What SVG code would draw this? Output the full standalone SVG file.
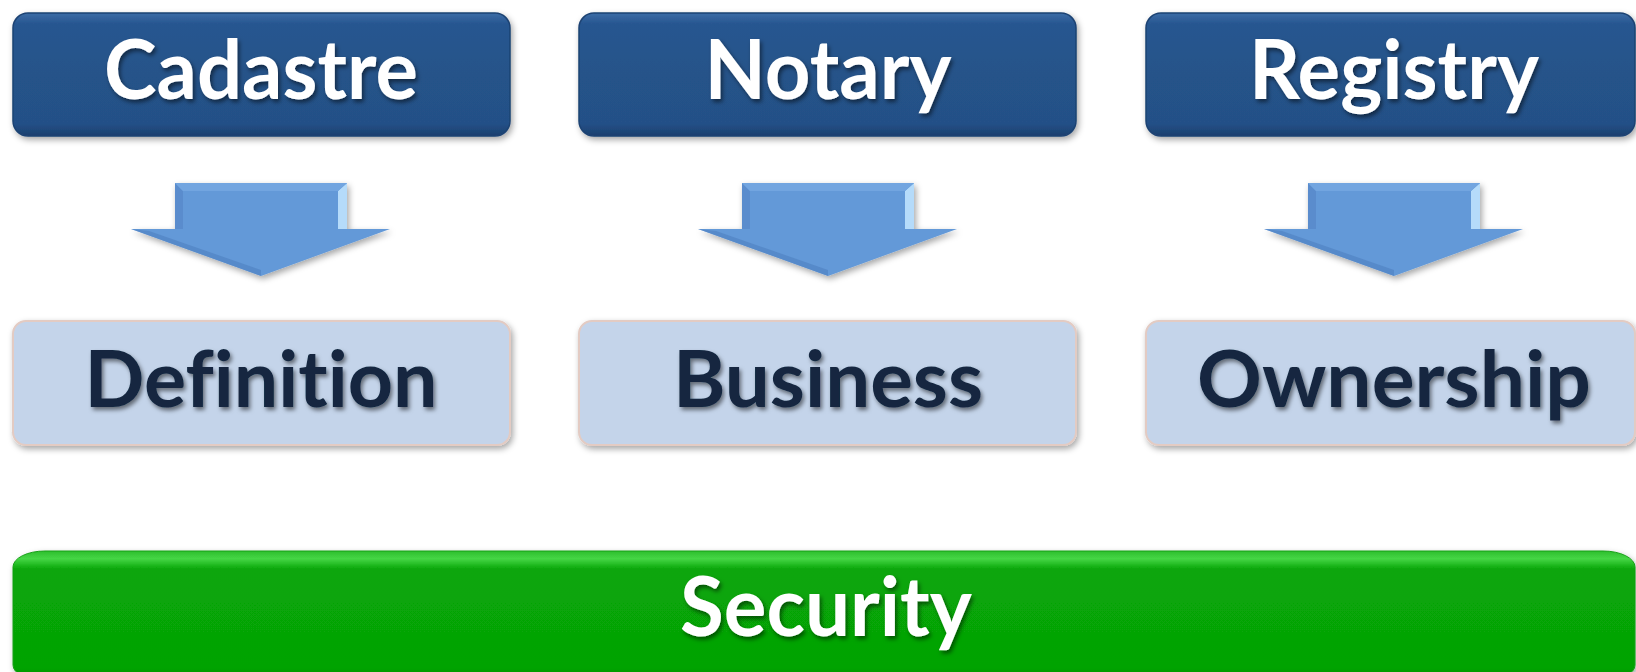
<svg xmlns="http://www.w3.org/2000/svg" width="1636" height="672" viewBox="0 0 1636 672">
<defs>
<linearGradient id="gDark" x1="0" y1="0" x2="0" y2="1">
<stop offset="0" stop-color="#3c6ca6"/>
<stop offset="0.09" stop-color="#275690"/>
<stop offset="0.5" stop-color="#255389"/>
<stop offset="0.9" stop-color="#245087"/>
<stop offset="1" stop-color="#1b3f6e"/>
</linearGradient>
<linearGradient id="gGreen" x1="0" y1="0" x2="0" y2="1">
<stop offset="0" stop-color="#2fbf2f"/>
<stop offset="0.06" stop-color="#45d645"/>
<stop offset="0.14" stop-color="#08a608"/>
<stop offset="0.9" stop-color="#05a305"/>
<stop offset="1" stop-color="#048c04"/>
</linearGradient>
<filter id="boxShadow" x="-5%" y="-10%" width="110%" height="130%">
<feDropShadow dx="2" dy="3" stdDeviation="3" flood-color="#000" flood-opacity="0.35"/>
</filter>
<filter id="txtShadow" x="-5%" y="-10%" width="110%" height="130%">
<feDropShadow dx="2" dy="3" stdDeviation="2" flood-color="#000" flood-opacity="0.5"/>
</filter>
<g id="arrowShape">
<polygon points="-86,0 86,0 86,46 129,46 0,93 -130,46 -86,46" fill="#6399d8"/>
<polygon points="-86,0 -78,8 -78,46 -86,46" fill="#5a8ccd"/>
<polygon points="86,0 77,8 77,46 86,46" fill="#b5dbfa"/>
<polygon points="-86,0 86,0 77,8 -78,8" fill="#72a5e0"/>
<polygon points="-130,46 0,93 0,87 -112,48" fill="#4b7cbc" opacity="0.5"/>
</g>
</defs>
<style>
.dark{fill:url(#gDark);stroke:#1d4373;stroke-width:1.5;filter:url(#boxShadow)}
.light{fill:#c4d4ea;stroke:#e3cbc3;stroke-width:2;filter:url(#boxShadow)}
.green{fill:url(#gGreen);stroke:#17a017;stroke-width:1;filter:url(#boxShadow)}
.tTop,.tMid{font-family:Lato,"Open Sans","Liberation Sans",sans-serif;font-weight:bold;text-anchor:middle;filter:url(#txtShadow);font-variant-ligatures:none;font-feature-settings:"liga" 0,"clig" 0,"dlig" 0}
.tTop{font-size:82px;fill:#ffffff}
.tMid{font-size:78px;fill:#12263f}
.arrow{filter:url(#boxShadow)}
</style>
<rect width="1636" height="672" fill="#ffffff"/>

<g id="cadastre">
<rect class="dark" x="13" y="13" width="497" height="123" rx="15"/>
<text class="tTop" x="261" y="99" textLength="314" lengthAdjust="spacingAndGlyphs">Cadastre</text>
</g>
<g id="notary">
<rect class="dark" x="579" y="13" width="497" height="123" rx="15"/>
<text class="tTop" x="828" y="99" textLength="247" lengthAdjust="spacingAndGlyphs">Notary</text>
</g>
<g id="registry">
<rect class="dark" x="1146" y="13" width="489" height="123" rx="15"/>
<text class="tTop" x="1394" y="99" textLength="290" lengthAdjust="spacingAndGlyphs">Registry</text>
</g>

<g id="connectors">
<use href="#arrowShape" class="arrow" transform="translate(261,183)"/>
<use href="#arrowShape" class="arrow" transform="translate(828,183)"/>
<use href="#arrowShape" class="arrow" transform="translate(1394,183)"/>
</g>

<g id="definition">
<rect class="light" x="13" y="321" width="497" height="124" rx="13"/>
<text class="tMid" x="261" y="407" textLength="353" lengthAdjust="spacingAndGlyphs">Definition</text>
</g>
<g id="business">
<rect class="light" x="579" y="321" width="497" height="124" rx="13"/>
<text class="tMid" x="828" y="407" textLength="310" lengthAdjust="spacingAndGlyphs">Business</text>
</g>
<g id="ownership">
<rect class="light" x="1146" y="321" width="489" height="124" rx="13"/>
<text class="tMid" x="1394" y="407" textLength="394" lengthAdjust="spacingAndGlyphs">Ownership</text>
</g>

<g id="security">
<rect class="green" x="13" y="551" width="1622" height="130" rx="32" ry="16"/>
<text class="tTop" x="826" y="636" textLength="292" lengthAdjust="spacingAndGlyphs">Security</text>
</g>
</svg>
